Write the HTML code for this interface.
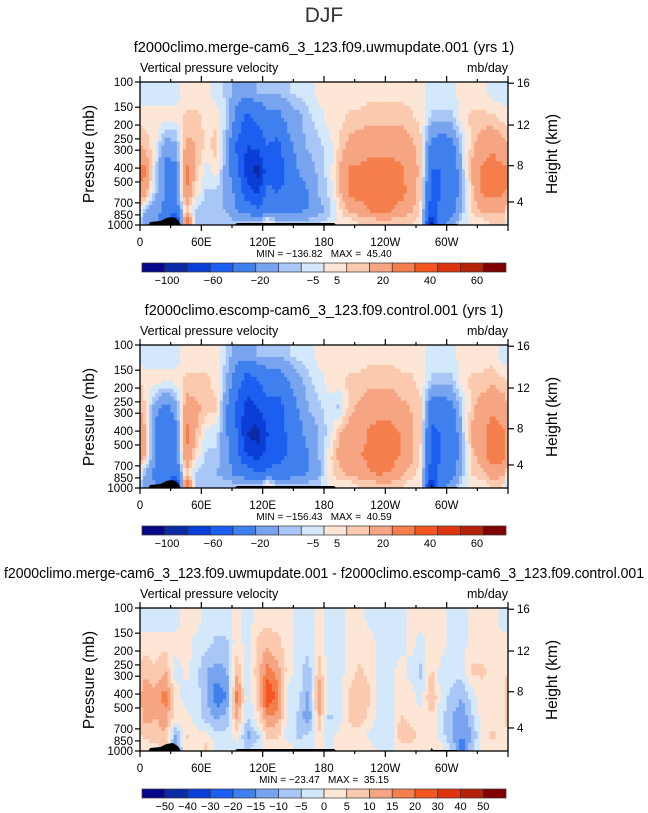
<!DOCTYPE html>
<html><head><meta charset="utf-8"><style>
body{margin:0;background:#fff;}
svg{display:block;font-family:"Liberation Sans",sans-serif;}
.pre{white-space:pre;}
</style></head><body>
<svg id="fig" width="648" height="813" viewBox="0 0 648 813">
<text x="324" y="22" text-anchor="middle" font-size="21" fill="#333">DJF</text>
</svg>
<script>
const lonEdges = [0,10,20,30,40,50,60,70,80,90,100,110,120,130,140,150,160,170,180,190,200,210,220,230,240,250,260,270,280,290,300,310,320,330,340,350,360];
const presEdges = [100,140,220,350,500,700,880,1000];
const xTickLabels = ["0","60E","120E","180","120W","60W"];
const xTickLons = [0,60,120,180,240,300];
const pTicks = [100,150,200,250,300,400,500,700,850,1000];
const hTicks = ["16","12","8","4"];
const hTickP = [102,200,385,690];
const palette = ["#07078a","#0a2aa6","#0a3ed6","#1c5ef0","#3f80ee","#78a4ef","#a9c7f6","#d4e8fb","#fde6d5","#fbcaae","#f6a583","#f57f4c","#f5561f","#dc3510","#b5220a","#800000"];
const levels12 = [-100,-80,-60,-40,-20,-10,-5,0,5,10,20,30,40,50,60];
const levels3 = [-50,-40,-30,-20,-15,-10,-5,0,5,10,15,20,30,40,50];
const cbLabels12 = ["\u2212100","\u221260","\u221220","\u22125","5","20","40","60"];
const cbLabelX12 = [167,213,260,313,337,383,430,477];
const cbLabels3 = ["\u221250","\u221240","\u221230","\u221220","\u221215","\u221210","\u22125","0","5","10","15","20","30","40","50"];
const field1 = [
[-3,3,8,22,15,-10,-15],[-3,3,2,-5,-8,-15,-15],[-3,2,-15,-25,-20,-25,-30],[-3,2,-12,-25,-25,-35,-70],
[3,6,12,25,22,8,35],[3,6,10,8,3,-6,-8],[2,4,3,-3,-6,-8,-8],[-3,3,8,3,-6,-10,-6],
[-6,-6,-12,-15,-12,-10,-6],[-15,-25,-45,-35,-25,-20,-10],[-12,-45,-60,-70,-55,-25,-10],[-10,-35,-55,-90,-60,-40,-10],
[-10,-25,-40,-45,-35,-30,3],[-10,-25,-45,-55,-40,-30,-8],[-6,-15,-25,-30,-35,-25,-8],[-3,-12,-15,-20,-25,-22,-8],
[-3,-6,-8,-15,-20,-20,-8],[3,-3,-6,-8,-10,-12,-6],[3,3,-3,-3,-3,-8,-3],[3,3,6,10,8,3,3],
[3,6,12,22,22,12,3],[3,6,15,22,25,15,6],[3,8,15,25,25,22,6],[3,8,15,25,28,22,8],
[3,8,15,25,28,22,8],[3,8,15,22,25,15,6],[3,6,12,15,15,12,6],[3,3,6,8,6,3,3],
[-3,-6,-25,-40,-45,-50,-80],[-3,-6,-30,-40,-40,-35,-25],[-3,-6,-25,-35,-35,-30,-15],[3,3,-6,-8,-10,-8,-3],
[3,6,8,12,8,6,3],[3,6,15,22,22,12,3],[-3,6,18,25,25,12,6],[-3,3,12,22,22,12,8]];
const field2 = [
[-3,3,5,12,10,-10,-15],[-3,3,-15,-25,-20,-25,-20],[-3,2,-25,-40,-30,-25,-30],[-3,2,-15,-25,-25,-35,-70],
[3,6,15,25,20,8,35],[3,6,12,10,3,-6,-8],[3,6,8,-3,-6,-8,-8],[2,3,6,-3,-6,-10,-6],
[-6,-10,-20,-20,-15,-15,-6],[-15,-30,-45,-40,-35,-25,-10],[-15,-50,-70,-80,-60,-30,-10],[-10,-40,-60,-90,-70,-40,-10],
[-10,-30,-45,-60,-50,-35,3],[-10,-30,-50,-55,-45,-35,-8],[-6,-20,-30,-35,-40,-30,-10],[-3,-12,-20,-25,-30,-25,-10],
[-3,-6,-10,-15,-20,-20,-8],[3,-3,-6,-10,-10,-12,-6],[3,3,-3,-3,3,3,3],[3,3,-6,10,12,8,3],
[3,6,8,15,15,12,3],[3,6,12,15,20,15,6],[3,8,15,22,22,20,6],[3,8,15,25,28,22,8],
[3,8,15,25,25,20,8],[3,6,12,20,20,12,6],[3,6,10,12,12,8,3],[3,3,6,6,3,3,3],
[-3,-6,-30,-45,-45,-50,-80],[-3,-6,-30,-40,-40,-35,-25],[-3,-6,-25,-35,-35,-30,-15],[3,3,-6,-8,-10,-8,-3],
[3,6,8,12,8,6,3],[3,6,15,18,15,8,3],[3,8,18,25,28,15,6],[-3,6,15,22,25,12,6]];
const field3 = [
[-3,3,8,15,12,6,3],[-3,2,6,12,10,8,3],[-3,3,10,18,12,10,6],[-3,2,-3,3,3,-12,-15],
[3,3,2,-3,3,6,3],[3,-3,-3,-3,-3,3,3],[-3,-3,-10,-8,-8,3,6],[-3,-6,-12,-20,-10,-3,-3],
[-3,-6,-10,-15,-8,-3,-3],[3,3,10,18,12,3,-3],[-3,-3,-3,-3,-6,-12,-6],[3,6,8,6,3,-6,-3],
[3,8,18,25,15,6,3],[3,6,12,18,12,6,3],[3,3,3,-3,-3,-3,3],[-3,-3,-3,-3,-6,-6,-3],
[-3,-3,-8,-12,-15,-3,-3],[3,3,8,15,10,3,3],[-3,-3,-3,-3,-6,-3,-3],[-3,-3,-3,-3,-3,3,3],
[3,3,3,6,6,3,3],[3,3,6,10,8,3,3],[-3,3,3,6,3,-3,3],[-3,-3,-3,-3,-3,-3,-3],
[-3,-3,-3,-3,-3,-3,-3],[-3,-3,3,3,6,8,3],[3,3,-3,3,3,8,3],[3,-3,-6,-3,3,3,3],
[3,3,6,12,3,3,3],[3,3,-3,-3,-3,-3,3],[-3,-3,-3,-6,-10,-10,-6],[-3,-3,-3,-10,-15,-15,-20],
[3,3,6,-3,-6,-10,-6],[3,3,6,3,3,3,3],[3,3,3,3,3,6,3],[-3,3,3,3,3,3,3]];
const titles = ["f2000climo.merge-cam6_3_123.f09.uwmupdate.001 (yrs 1)","f2000climo.escomp-cam6_3_123.f09.control.001 (yrs 1)","f2000climo.merge-cam6_3_123.f09.uwmupdate.001 - f2000climo.escomp-cam6_3_123.f09.control.001"];
const minmax = ["MIN = \u2212136.82   MAX =  45.40","MIN = \u2212156.43   MAX =  40.59","MIN = \u221223.47   MAX =  35.15"];

const NS="http://www.w3.org/2000/svg";
const svg=document.getElementById('fig');
function mk(tag,attrs,parent,text){const e=document.createElementNS(NS,tag);for(const k in attrs)e.setAttribute(k,attrs[k]);if(text!==undefined)e.textContent=text;(parent||svg).appendChild(e);return e;}
const X0=140,X1=508;
function xs(lon){return X0+(X1-X0)*lon/360;}
function binIdx(v,lv){let i=0;while(i<lv.length&&v>=lv[i])i++;return i;}
// bilinear sampling of the cell-centred field for smooth rendering
function sample(field,lon,lp){
  const nc=field.length,nr=field[0].length;
  let fc=lon/10-0.5; let c0=Math.floor(fc); let tc=fc-c0;
  const ca=((c0%nc)+nc)%nc, cb=(((c0+1)%nc)+nc)%nc;
  const lpc=[];for(let r=0;r<nr;r++)lpc.push((Math.log(presEdges[r])+Math.log(presEdges[r+1]))/2);
  let r0=0;while(r0<nr-2&&lp>lpc[r0+1])r0++;
  let tr=(lp-lpc[r0])/(lpc[r0+1]-lpc[r0]);tr=Math.max(0,Math.min(1,tr));
  const a=field[ca][r0]*(1-tr)+field[ca][r0+1]*tr;
  const b=field[cb][r0]*(1-tr)+field[cb][r0+1]*tr;
  return a*(1-tc)+b*tc;
}

function panel(k,top,field,levels){
  const H=143;
  const ys=p=>top+H*Math.log(p/100)/Math.log(10);
  const g=mk('g',{});
  
  
  const tAttrs={x:324,y:top-30,'text-anchor':'middle','font-size':14.5,fill:'#000'};
  if(k===2){tAttrs.textLength=640;tAttrs.lengthAdjust='spacingAndGlyphs';}
  const t=mk('text',tAttrs,g,titles[k]);
  
  
  const s1=mk('text',{x:X0,y:top-10,'font-size':12.5,fill:'#000'},g,'Vertical pressure velocity');
  
  
  const s2=mk('text',{x:X1,y:top-10,'font-size':12.5,'text-anchor':'end',fill:'#000'},g,'mb/day');
  
  
  const cells=mk('g',{},g);
  
  
  const NX=120,NY=36;
  const lp0=Math.log(100),lp1=Math.log(1000);
  for(let i=0;i<NX;i++){
    const lon=(i+0.5)*360/NX;
    for(let j=0;j<NY;j++){
      const lpA=lp0+(lp1-lp0)*j/NY, lpB=lp0+(lp1-lp0)*(j+1)/NY;
      const v=sample(field,lon,(lpA+lpB)/2);
      const x=xs(i*360/NX),y=ys(Math.exp(lpA));
      mk('rect',{x:x,y:y,width:(X1-X0)/NX+0.4,height:H/NY+0.4,fill:palette[binIdx(v,levels)]},cells);
    }
  }
  const yb=top+H;
  const terr=mk('path',{d:`M${xs(8)} ${yb} L${xs(10)} ${yb-3} L${xs(20)} ${yb-4} L${xs(26)} ${yb-7} L${xs(32)} ${yb-8} L${xs(37)} ${yb-5} L${xs(40)} ${yb} Z M${xs(92)} ${yb} L${xs(95)} ${yb-2} L${xs(190)} ${yb-2} L${xs(192)} ${yb} Z M${xs(284)} ${yb} L${xs(285)} ${yb-3} L${xs(287)} ${yb-1} L${xs(310)} ${yb-1} L${xs(311)} ${yb} Z`,fill:'#000'},g);
  
  
  const fr=mk('rect',{x:X0,y:top,width:X1-X0,height:H,fill:'none',stroke:'#000','stroke-width':1.3},g);
  
  
  for(let lon=0;lon<=360;lon+=30){
    const major=lon%60===0;const L=major?6:3;
    mk('line',{x1:xs(lon),x2:xs(lon),y1:yb,y2:yb+L,stroke:'#000','stroke-width':1.2},g);
    mk('line',{x1:xs(lon),x2:xs(lon),y1:top,y2:top-L,stroke:'#000','stroke-width':1.2},g);
  }
  xTickLabels.forEach((lb,i)=>{
    const tx=mk('text',{x:xs(xTickLons[i]),y:yb+21,'text-anchor':'middle','font-size':11.5},g,lb);
    
    
  });
  pTicks.forEach(p=>{
    mk('line',{x1:X0-5,x2:X0,y1:ys(p),y2:ys(p),stroke:'#000','stroke-width':1.2},g);
    const tx=mk('text',{x:X0-7,y:ys(p)+4,'text-anchor':'end','font-size':11.5},g,String(p));
    
    
  });
  hTicks.forEach((h,i)=>{
    const y=ys(hTickP[i]);
    mk('line',{x1:X1,x2:X1+6,y1:y,y2:y,stroke:'#000','stroke-width':1.2},g);
    const tx=mk('text',{x:X1+9,y:y+4,'font-size':11.5},g,h);
    
    
  });
  const yl=mk('text',{x:0,y:0,transform:`translate(94 ${top+72}) rotate(-90)`,'text-anchor':'middle','font-size':15.5},g,'Pressure (mb)');
  
  
  const yr=mk('text',{x:0,y:0,transform:`translate(557 ${top+72}) rotate(-90)`,'text-anchor':'middle','font-size':15.5},g,'Height (km)');
  
  
  const mm=mk('text',{x:324,y:yb+32,'text-anchor':'middle','font-size':10,'class':'pre'},g,minmax[k]);
  
  
  const cb=mk('g',{},g);
  
  
  const cy=yb+38,bw=(506-142)/16;
  palette.forEach((c,i)=>{
    const b=mk('rect',{x:142+i*bw,y:cy,width:bw,height:9,fill:c,stroke:'#333','stroke-width':0.7},cb);
    
    
  });
  if(k<2){
    cbLabels12.forEach((lb,i)=>{
      const tx=mk('text',{x:cbLabelX12[i],y:cy+21,'text-anchor':'middle','font-size':11},cb,lb);
      
      
    });
  } else {
    cbLabels3.forEach((lb,i)=>{
      const tx=mk('text',{x:142+(i+1)*bw,y:cy+21,'text-anchor':'middle','font-size':11},cb,lb);
      
      
    });
  }
}
panel(0,82,field1,levels12);
panel(1,345,field2,levels12);
panel(2,608,field3,levels3);
</script>
</body></html>
